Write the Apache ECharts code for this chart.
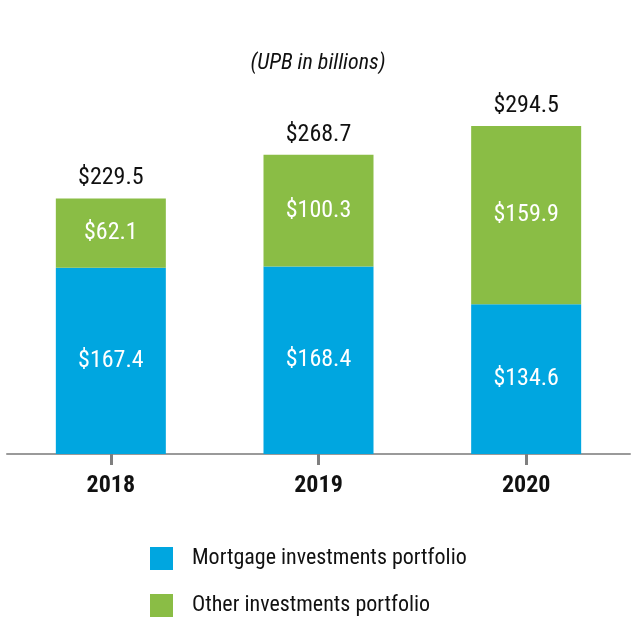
<!DOCTYPE html>
<html>
<head>
<meta charset="utf-8">
<script src="https://cdn.jsdelivr.net/npm/echarts@6/dist/echarts.min.js"></script>
<style>
html,body{margin:0;padding:0;background:#fff;}
#chart{width:636px;height:640px;}
</style>
</head>
<body>
<div id="chart"></div>
<script>
const categories = ['2018', '2019', '2020'];
const mortgage = [167.4, 168.4, 134.6];
const other = [62.1, 100.3, 159.9];
const totals = [229.5, 268.7, 294.5];
const seriesNames = ['Mortgage investments portfolio', 'Other investments portfolio'];

const FONT = "'Liberation Sans Narrow', 'Arial Narrow', 'Roboto Condensed', 'Liberation Sans', sans-serif";
const BLUE = '#00A6E0';
const GREEN = '#8ABD45';

const chart = echarts.init(document.getElementById('chart'), null, {renderer: 'canvas'});
chart.setOption({
  animation: false,
  textStyle: {fontFamily: FONT},
  title: {
    text: '(UPB in billions)',
    left: 'center',
    top: 47,
    textStyle: {fontFamily: FONT, fontStyle: 'italic', fontWeight: 'normal', fontSize: 22, color: '#111'}
  },
  grid: {left: 7, right: 6, top: 120, bottom: 186, containLabel: false},
  xAxis: {
    type: 'category',
    data: categories,
    axisLine: {show: true, lineStyle: {color: '#9a9a9a', width: 2}},
    axisTick: {show: true, alignWithLabel: true, length: 11, lineStyle: {color: '#7f7f7f', width: 3}},
    axisLabel: {fontFamily: FONT, fontWeight: 'bold', fontSize: 24, color: '#111', margin: 20, interval: 0}
  },
  yAxis: {
    type: 'value', min: 0, max: 300, show: false,
    splitLine: {show: false}
  },
  legend: {
    data: seriesNames,
    orient: 'vertical',
    left: 150,
    top: 547,
    itemWidth: 23,
    itemHeight: 23,
    itemGap: 24,
    padding: 0,
    icon: 'rect',
    textStyle: {fontFamily: FONT, fontSize: 22, color: '#111', padding: [0, 0, 0, 14]}
  },
  series: [
    {
      name: seriesNames[0], type: 'bar', stack: 'a', data: mortgage, barWidth: 110,
      itemStyle: {color: BLUE},
      label: {show: true, position: 'inside', color: '#fff', fontFamily: FONT, fontSize: 24,
        formatter: p => '$' + p.value.toFixed(1)}
    },
    {
      name: seriesNames[1], type: 'bar', stack: 'a', data: other, barWidth: 110,
      itemStyle: {color: GREEN},
      label: {show: true, position: 'inside', color: '#fff', fontFamily: FONT, fontSize: 24,
        formatter: p => '$' + p.value.toFixed(1)}
    },
    {
      name: 'Total', type: 'bar', data: totals, barWidth: 110, barGap: '-100%', z: 1,
      itemStyle: {color: 'rgba(0,0,0,0)'},
      label: {show: true, position: 'top', distance: 8, color: '#111', fontFamily: FONT, fontSize: 24,
        formatter: p => '$' + p.value.toFixed(1)},
      silent: true
    }
  ]
});
</script>
</body>
</html>
